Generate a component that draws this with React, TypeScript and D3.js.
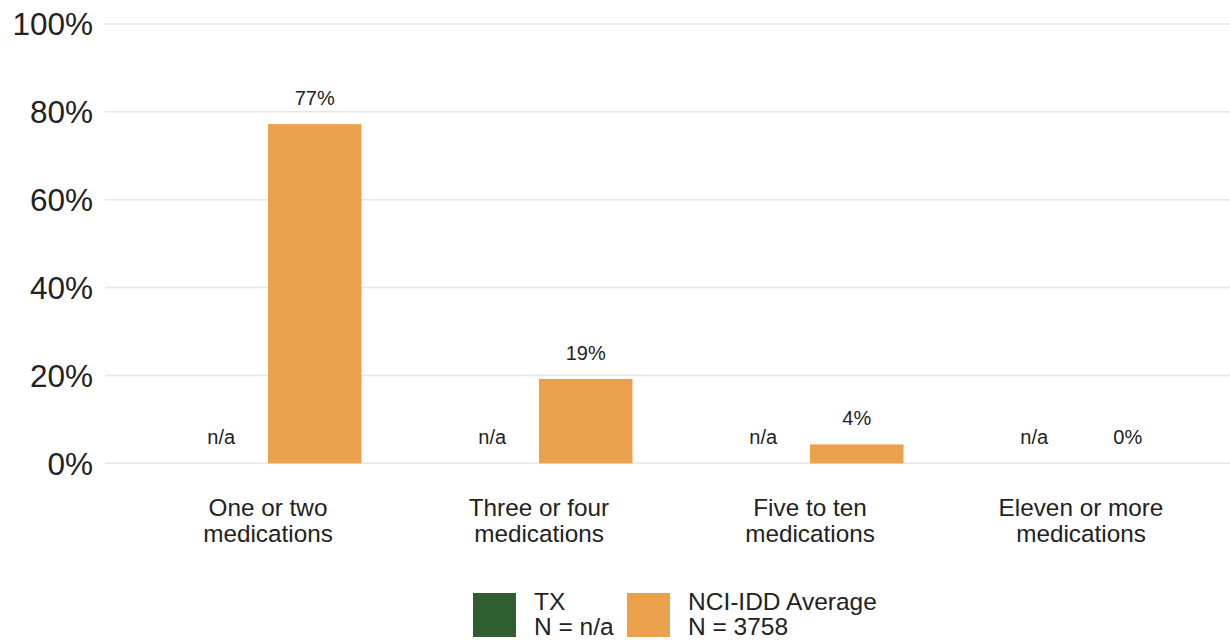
import React from "react";
import * as d3 from "d3";

const categories: string[][] = [
  ["One or two", "medications"],
  ["Three or four", "medications"],
  ["Five to ten", "medications"],
  ["Eleven or more", "medications"],
];
const seriesNames = ["TX", "NCI-IDD Average"];
const seriesN = ["N = n/a", "N = 3758"];
const seriesColors = ["#2f5f30", "#eba04c"];
const txValues: (number | null)[] = [null, null, null, null];
const nciValues: (number | null)[] = [77.2, 19.2, 4.3, 0];
const nciLabels = ["77%", "19%", "4%", "0%"];
const yTicks = [0, 20, 40, 60, 80, 100];

const W = 1230;
const H = 641;
const FONT = "'Liberation Sans', Arial, sans-serif";

export default function App() {
  const y = d3.scaleLinear().domain([0, 100]).range([463.3, 24]);
  const x0 = d3
    .scaleBand<number>()
    .domain(d3.range(categories.length))
    .range([132.5, 1216.5])
    .padding(0);
  const groupW = 187;
  const x1 = d3
    .scaleBand<number>()
    .domain([0, 1])
    .range([(x0.bandwidth() - groupW) / 2, (x0.bandwidth() + groupW) / 2])
    .padding(0);

  const series = [txValues, nciValues];

  return (
    <svg
      width={W}
      height={H}
      style={{ position: "absolute", left: 0, top: 0, fontFamily: FONT }}
    >
      <rect width={W} height={H} fill="#ffffff" />
      {yTicks.map((t) => (
        <g key={t}>
          <line
            x1={105}
            x2={W}
            y1={y(t)}
            y2={y(t)}
            stroke="#e6e6e6"
            strokeWidth={1.5}
          />
          <text
            x={93}
            y={y(t)}
            dy="0.36em"
            textAnchor="end"
            fontSize={31.5}
            fill="#222"
          >
            {t}%
          </text>
        </g>
      ))}
      {categories.map((cat, i) =>
        series.map((vals, s) => {
          const v = vals[i];
          const bx = (x0(i) as number) + (x1(s) as number);
          const bw = x1.bandwidth();
          const cx = bx + bw / 2;
          const label = v === null ? "n/a" : nciLabels[i];
          const top = v === null ? y(0) : y(v);
          return (
            <g key={`${i}-${s}`}>
              {v !== null && v > 0 && (
                <rect
                  x={bx}
                  y={top}
                  width={bw}
                  height={y(0) - top}
                  fill={seriesColors[s]}
                />
              )}
              <text
                x={cx}
                y={Math.min(top, y(0)) - 19}
                textAnchor="middle"
                fontSize={20}
                fill="#222"
              >
                {label}
              </text>
            </g>
          );
        })
      )}
      {categories.map((cat, i) => {
        const cx = (x0(i) as number) + x0.bandwidth() / 2;
        return (
          <text
            key={i}
            x={cx}
            y={516}
            textAnchor="middle"
            fontSize={24.3}
            fill="#222"
          >
            {cat.map((line, k) => (
              <tspan key={k} x={cx} dy={k === 0 ? 0 : 26}>
                {line}
              </tspan>
            ))}
          </text>
        );
      })}
      {seriesNames.map((name, s) => {
        const lx = s === 0 ? 473 : 627;
        return (
          <g key={name}>
            <rect x={lx} y={593} width={43} height={44} fill={seriesColors[s]} />
            <text x={lx + 61} y={610} fontSize={24.5} fill="#222">
              {name}
            </text>
            <text x={lx + 61} y={635} fontSize={24.5} fill="#222">
              {seriesN[s]}
            </text>
          </g>
        );
      })}
    </svg>
  );
}
